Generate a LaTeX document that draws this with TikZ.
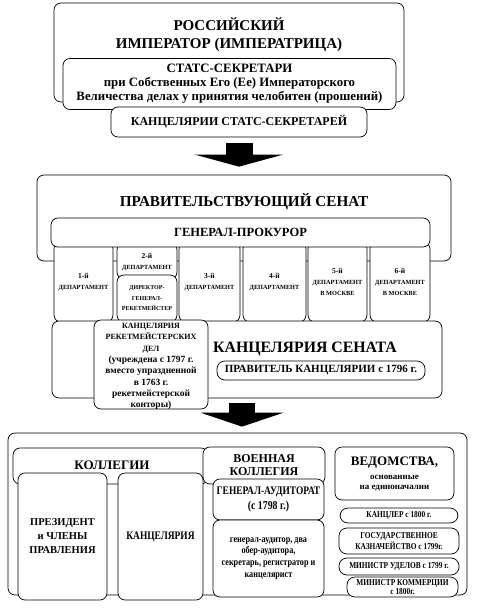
\documentclass[tikz,border=0pt]{standalone}
\usepackage{fontspec}
\setmainfont{Liberation Serif}
\newfontfamily\narrowserif{Liberation Serif}[FakeStretch=0.82]
\usetikzlibrary{arrows.meta}

\tikzset{
  blk/.style={draw, line width=0.7pt, rounded corners=7pt, fill=white, inner sep=0pt, align=center},
  pill/.style={blk, rounded corners=8pt},
  sz/.style 2 args={minimum width=#1pt, minimum height=#2pt},
  fnt/.style 2 args={font=\bfseries\fontsize{#1}{#2}\selectfont},
  nfnt/.style 2 args={font=\narrowserif\bfseries\fontsize{#1}{#2}\selectfont},
  txt/.style={align=center, inner sep=0pt},
  blockarrow/.style={line width=27pt, -{Triangle[length=12pt, width=88pt, line width=0pt]}},
}

\begin{document}
\begin{tikzpicture}[x=1pt, y=-1pt]
\useasboundingbox (0,0) rectangle (478,608);

% --- emperor and his secretaries
\node[blk, sz={350}{99}] (emp) at (229,52.5) {};
\node[txt, fnt={15}{18}] (emptxt) at (229,35) {РОССИЙСКИЙ\\ИМПЕРАТОР (ИМПЕРАТРИЦА)};
\node[blk, sz={333}{51}, fnt={12.8}{14}] (sec) at (229.5,84)
  {{\fontsize{12.8}{14}\selectfont СТАТС-СЕКРЕТАРИ}\\при Собственных Его (Ее) Императорского\\Величества делах у принятия челобитен (прошений)};
\node[blk, sz={256}{30}, fnt={12}{12}] (kss) at (239,122) {КАНЦЕЛЯРИИ СТАТС-СЕКРЕТАРЕЙ};

% --- senate
\node[blk, sz={414}{86}] (senate) at (244,218) {};
\node[txt, fnt={15.2}{18}] (senatetxt) at (244,202) {ПРАВИТЕЛЬСТВУЮЩИЙ СЕНАТ};
\draw[blockarrow, shorten <=6pt, shorten >=8pt] (kss.south) -- (kss.south |- senate.north);

% departments (tops and bottoms hidden below the next boxes)
\node[blk, sz={59}{80}, fnt={6.3}{11}] (dep1) at (83.5,282) {{\fontsize{7.5}{11}\selectfont 1-й}\\ДЕПАРТАМЕНТ};
\node[blk, sz={60}{36}, fnt={6.3}{11}] (dep2) at (147,261) {\\[-3pt]{\fontsize{7.5}{11}\selectfont 2-й}\\ДЕПАРТАМЕНТ};
\node[blk, sz={61}{80}, fnt={6.3}{11}] (dep3) at (209.5,282) {{\fontsize{7.5}{11}\selectfont 3-й}\\ДЕПАРТАМЕНТ};
\node[blk, sz={63}{80}, fnt={6.3}{11}] (dep4) at (274.5,282) {{\fontsize{7.5}{11}\selectfont 4-й}\\ДЕПАРТАМЕНТ};
\node[blk, sz={59}{80}, fnt={6.3}{11}] (dep5) at (337.5,282) {{\fontsize{7.5}{11}\selectfont 5-й}\\ДЕПАРТАМЕНТ\\В МОСКВЕ};
\node[blk, sz={60}{80}, fnt={6.3}{11}] (dep6) at (400,282) {{\fontsize{7.5}{11}\selectfont 6-й}\\ДЕПАРТАМЕНТ\\В МОСКВЕ};
\node[blk, sz={60}{47}, fnt={6}{10.5}] (director) at (147,298.5) {ДИРЕКТОР-\\ГЕНЕРАЛ-\\РЕКЕТМЕЙСТЕР};
\node[blk, sz={379}{29}, fnt={12.5}{13}] (genprok) at (240.5,232.5) {ГЕНЕРАЛ-ПРОКУРОР};

% chancery of the senate
\node[blk, sz={390}{77}] (kanc) at (247,359.5) {};
\node[txt, fnt={15.8}{18}] (kanctxt) at (305,349) {КАНЦЕЛЯРИЯ СЕНАТА};
\node[pill, sz={208}{19}, fnt={11}{12}] (pravitel) at (321,370.5) {ПРАВИТЕЛЬ КАНЦЕЛЯРИИ с 1796 г.};
\node[blk, sz={114}{89}] (reket) at (151,364.5) {};
\node[txt, fnt={8}{11.3}] (rekettxt) at (151,366.5)
  {КАНЦЕЛЯРИЯ\\РЕКЕТМЕЙСТЕРСКИХ\\ДЕЛ\\{\fontsize{9.5}{11}\selectfont (учреждена с 1797 г.}\\{\fontsize{9.5}{11}\selectfont вместо упраздненной}\\{\fontsize{9.5}{11}\selectfont в 1763 г.}\\{\fontsize{9.5}{11}\selectfont рекетмейстерской}\\{\fontsize{9.5}{11}\selectfont конторы)}};

% --- colleges and ministries
\node[blk, sz={459}{162}] (bottom) at (237.5,514) {};
\coordinate (a2) at (242,398);
\draw[blockarrow, line width=26pt, -{Triangle[length=14pt, width=83pt, line width=0pt]}, shorten <=5pt, shorten >=6pt] (a2) -- (a2 |- bottom.north);

\node[blk, sz={195}{36}] (koll) at (110.5,466) {};
\node[txt, fnt={13}{15}] (kolltxt) at (112,465) {КОЛЛЕГИИ};
\node[blk, sz={89}{127}, fnt={10.5}{14}] (pres) at (62.5,536.5) {ПРЕЗИДЕНТ\\и ЧЛЕНЫ\\ПРАВЛЕНИЯ};
\node[blk, sz={85}{127}, nfnt={11.5}{12}] (kanc2) at (160.5,536.5) {КАНЦЕЛЯРИЯ};

\node[blk, sz={122}{37}, fnt={12}{13}] (voen) at (264,465.5) {ВОЕННАЯ\\КОЛЛЕГИЯ};
\node[blk, sz={111}{41}, nfnt={11.5}{15}] (gaudit) at (268.5,499.5) {ГЕНЕРАЛ-АУДИТОРАТ\\{\fontsize{12}{15}\selectfont (с 1798 г.)}};
\node[blk, sz={111}{77}, nfnt={10}{11.7}] (gstaff) at (268.5,558.5)
  {генерал-аудитор, два\\обер-аудитора,\\секретарь, регистратор и\\канцелярист};

\node[blk, sz={119}{53}, fnt={9}{10}] (ved) at (394.5,473.5)
  {{\fontsize{13}{10}\selectfont ВЕДОМСТВА,}\\[4pt]основанные\\на единоначалии};
\node[pill, sz={118}{15}, nfnt={9}{10}] (kanzler) at (399,515.5) {КАНЦЛЕР с 1800 г.};
\node[pill, sz={120}{26}, nfnt={9}{11}] (kazna) at (399,541) {ГОСУДАРСТВЕННОЕ\\КАЗНАЧЕЙСТВО с 1799г.};
\node[pill, sz={120}{17}, nfnt={9}{10}] (udel) at (399,566.5) {МИНИСТР УДЕЛОВ с 1799 г.};
\node[pill, sz={111}{20}, nfnt={9}{9}] (kommerc) at (402.5,587) {МИНИСТР КОММЕРЦИИ\\с 1800г.};
\end{tikzpicture}
\end{document}
